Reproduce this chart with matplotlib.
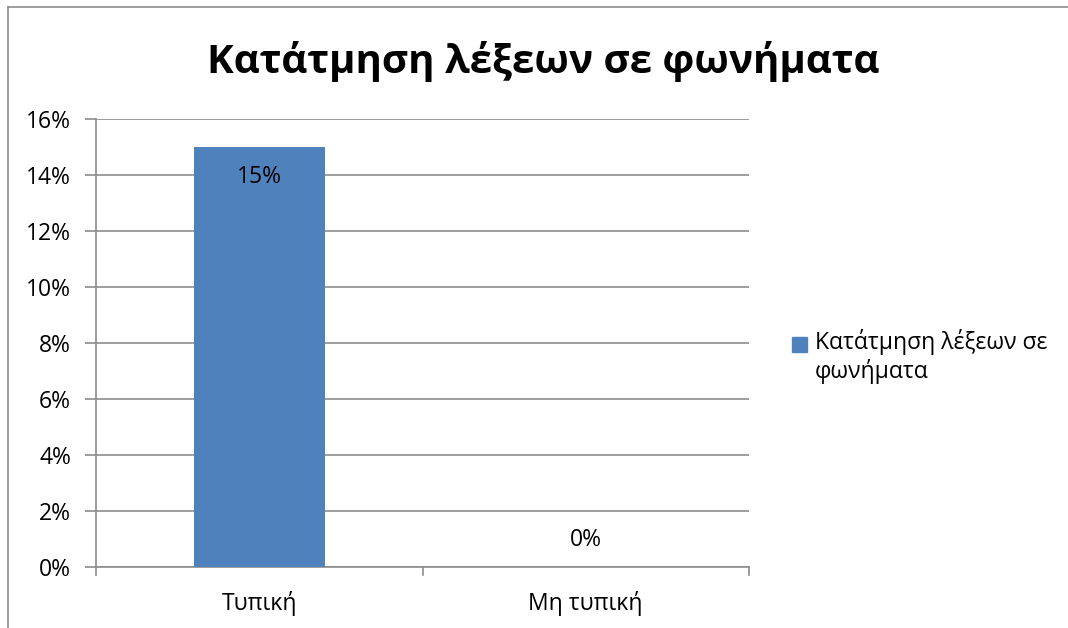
import matplotlib
matplotlib.use("Agg")
import matplotlib.pyplot as plt
from matplotlib.patches import Rectangle
from matplotlib.lines import Line2D

categories = ["Τυπική", "Μη τυπική"]
values = [15, 0]
value_labels = ["15%", "0%"]
yticks = [0, 2, 4, 6, 8, 10, 12, 14, 16]
ytick_labels = [f"{v}%" for v in yticks]
title = "Κατάτμηση λέξεων σε φωνήματα"
series_name = "Κατάτμηση λέξεων σε\nφωνήματα"

plt.rcParams["font.family"] = ["Open Sans", "DejaVu Sans"]

W, H = 1068, 628
fig = plt.figure(figsize=(W / 100, H / 100), dpi=100)
fig.patch.set_facecolor("white")

# chart-area frame (top and left edges)
grey = "#8c8c8c"
fig.add_artist(Line2D([8 / W, 8 / W], [0, 1 - 7 / H], color=grey, lw=1.2, transform=fig.transFigure))
fig.add_artist(Line2D([8 / W, 1], [1 - 7 / H, 1 - 7 / H], color=grey, lw=1.2, transform=fig.transFigure))

x0, x1 = 96, 749
y0, y1 = 567, 119
ax = fig.add_axes([x0 / W, 1 - y0 / H, (x1 - x0) / W, (y0 - y1) / H])

bar_color = "#4f81bd"
pos = list(range(len(categories)))
ax.bar(pos, values, width=0.4, color=bar_color, zorder=3, label=series_name)

ax.set_xlim(-0.5, len(categories) - 0.5)
ax.set_ylim(0, 16)
ax.set_yticks(yticks)
ax.set_yticklabels(ytick_labels, fontsize=16.5)
ax.set_xticks(pos)
ax.set_xticklabels(categories, fontsize=16.5)
ax.yaxis.grid(True, color=grey, lw=1.2, zorder=0)
ax.set_axisbelow(True)

for s in ["top", "right"]:
    ax.spines[s].set_visible(False)
for s in ["left", "bottom"]:
    ax.spines[s].set_color(grey)
    ax.spines[s].set_linewidth(1.2)

ax.tick_params(axis="y", length=8, width=1.2, color=grey, pad=10, direction="out")
ax.tick_params(axis="x", length=0, pad=17)
# category separator ticks on the x axis
for xb in [-0.5, 0.5, 1.5]:
    ax.plot([xb, xb], [0, -0.3], color=grey, lw=1.2, clip_on=False, zorder=4)

for p, v, lab in zip(pos, values, value_labels):
    if v > 0.5:
        ax.text(p, v - 1.07, lab, ha="center", va="center", fontsize=16.5, zorder=5)
    else:
        ax.text(p, v + 0.98, lab, ha="center", va="center", fontsize=16.5, zorder=5)

fig.text(543 / W, 1 - 61 / H, title, ha="center", va="center", fontsize=29, fontweight="bold")

# legend
fig.add_artist(Rectangle((792 / W, 1 - 352 / H), 15 / W, 15 / H, color=bar_color, transform=fig.transFigure))
fig.text(815 / W, 1 - 329 / H, series_name, ha="left", va="top", fontsize=16.5, linespacing=1.22)

fig.savefig("out.png", dpi=100, facecolor="white")
